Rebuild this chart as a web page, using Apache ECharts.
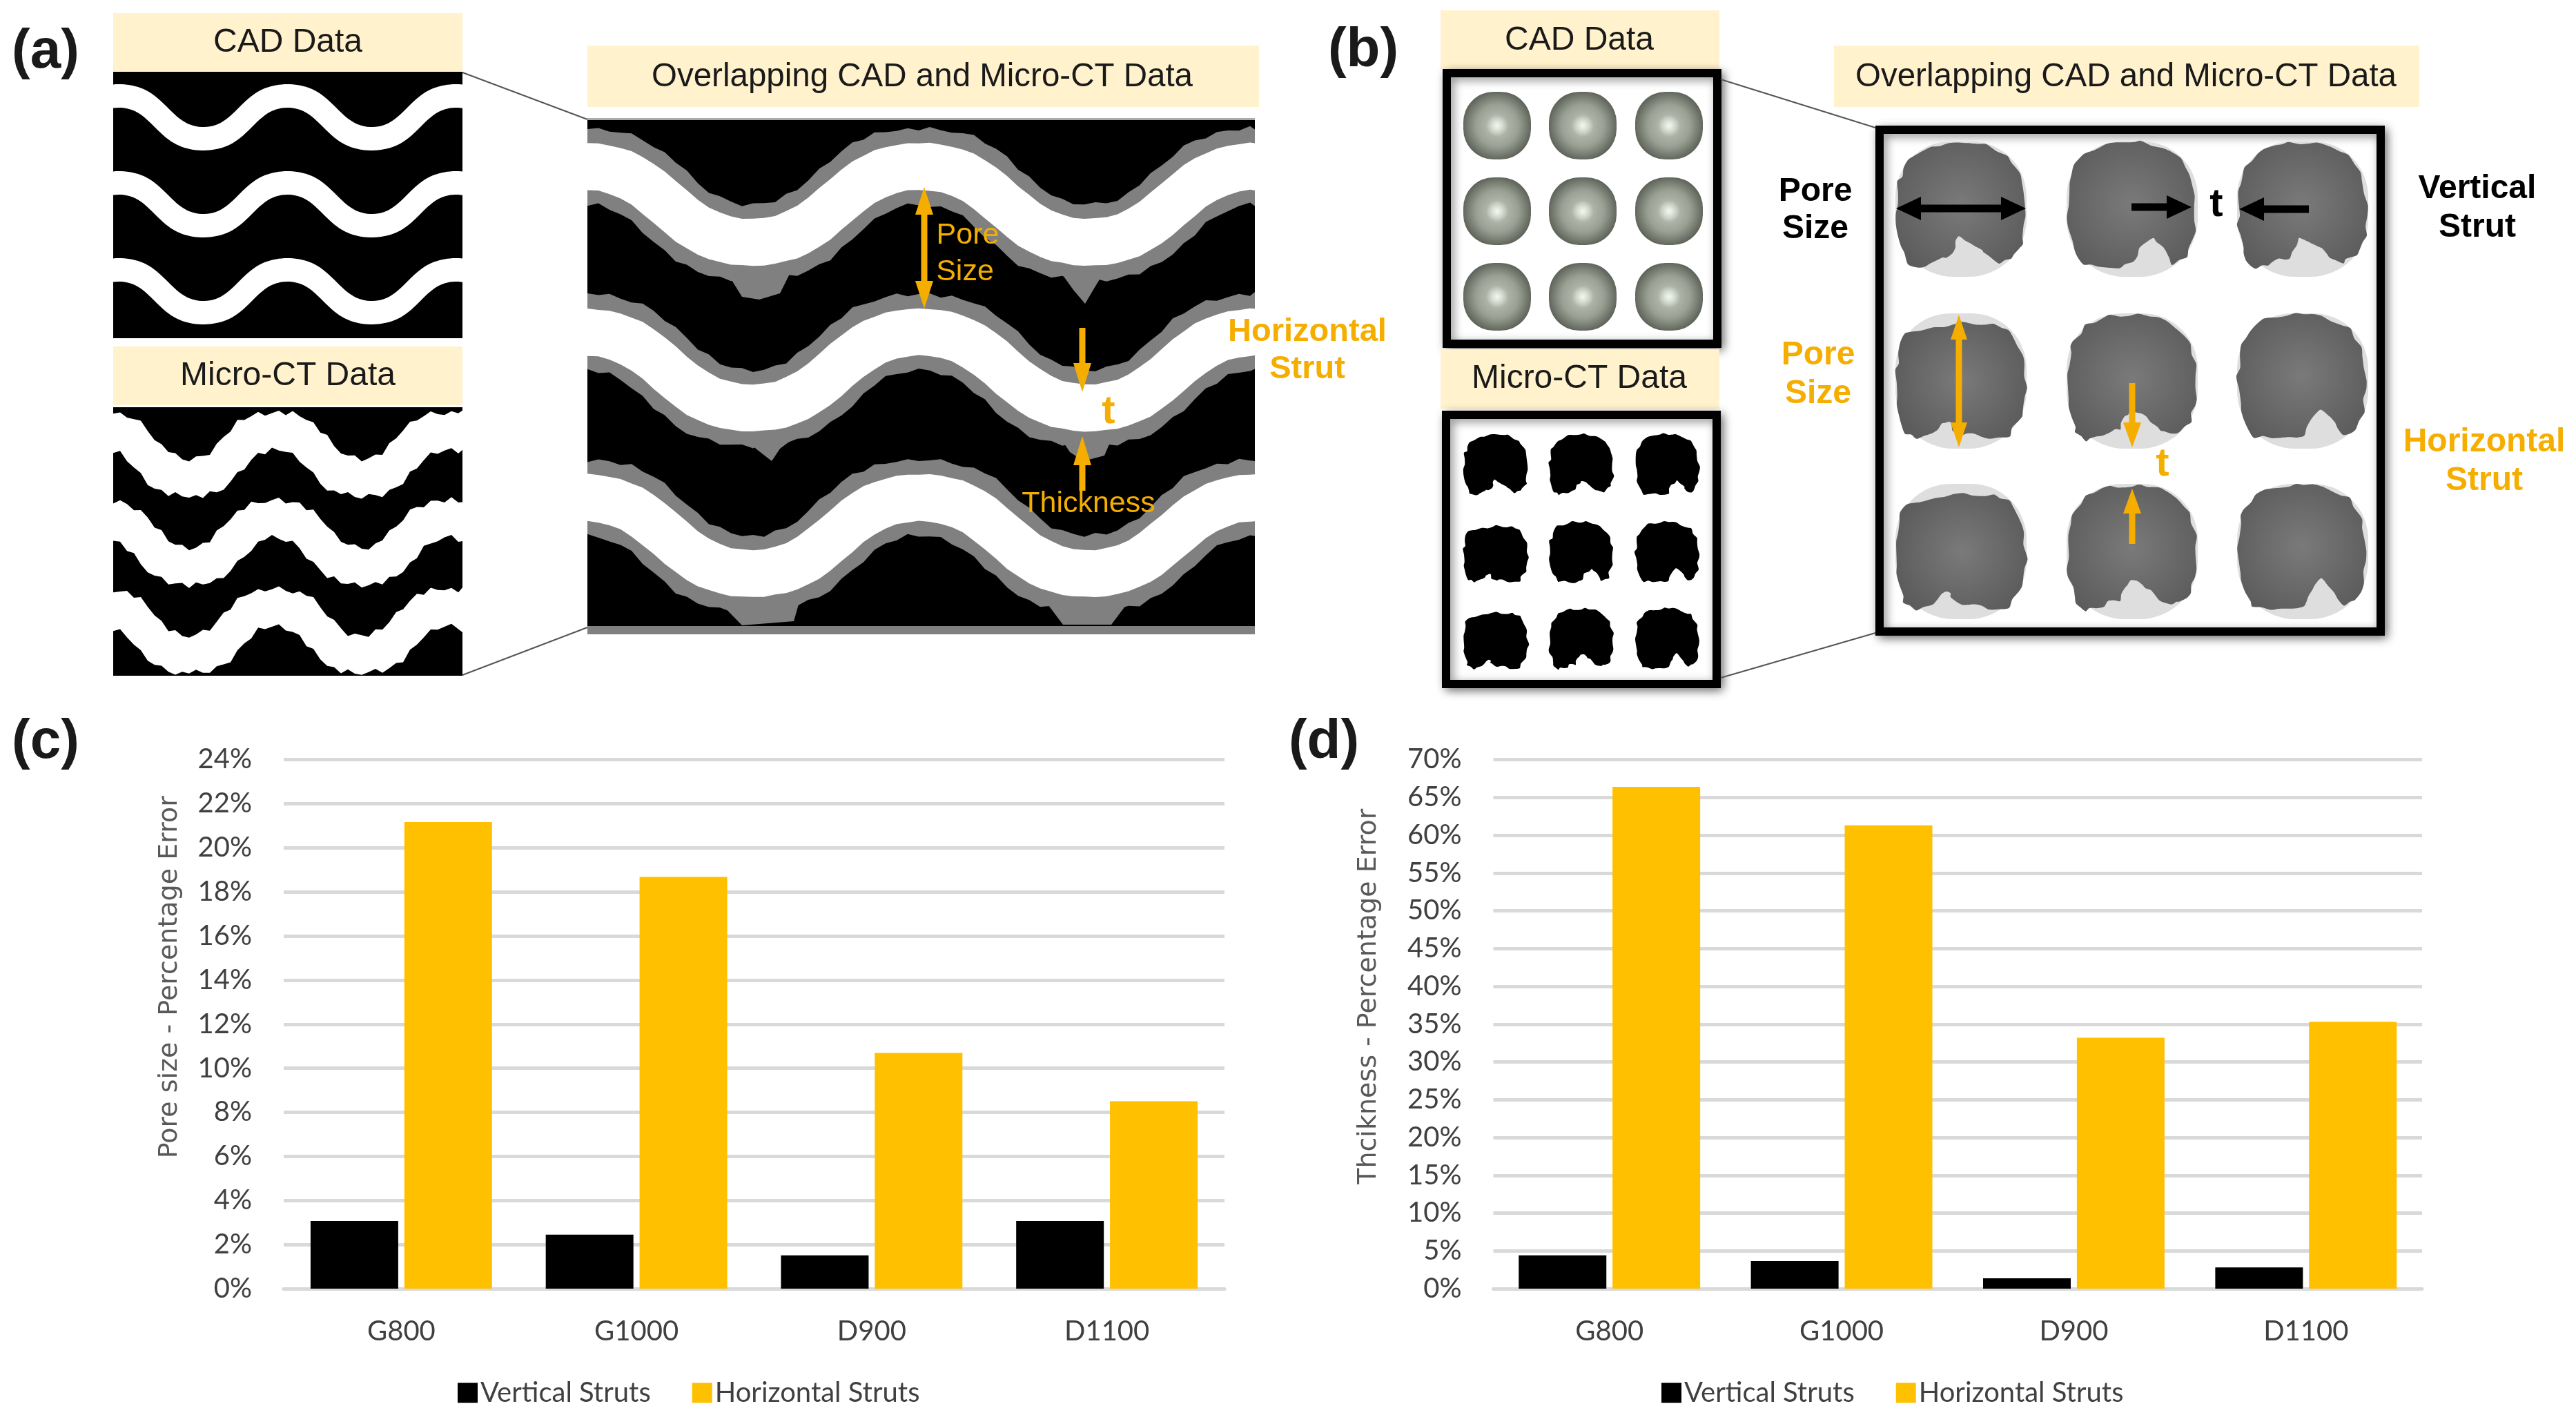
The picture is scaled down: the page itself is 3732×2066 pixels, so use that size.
<!DOCTYPE html>
<html><head><meta charset="utf-8">
<style>html,body{margin:0;padding:0;background:#fff}#c{width:3732px;height:2066px}</style>
<script src="https://cdn.jsdelivr.net/npm/echarts@6/dist/echarts.min.js"></script>
</head><body><div id="c"></div>
<script>
// ---- chart data ----
const categories = ['G800','G1000','D900','D1100'];
const seriesNames = ['Vertical Struts','Horizontal Struts'];
const poreVertical = [3.07,2.45,1.51,3.07];
const poreHorizontal = [21.17,18.68,10.69,8.5];
const thickVertical = [4.4,3.66,1.37,2.8];
const thickHorizontal = [66.4,61.3,33.2,35.3];
const poreAxisName = 'Pore size - Percentage Error';
const thickAxisName = 'Thcikness - Percentage Error';

// ---- schematic helpers ----
const ORANGE='#F5AE00', CREAM='#FFF2CC', FONT='"Liberation Sans"';
const jag=[2,-3,4,1,-5,3,6,-2,1,-6,2,5,-4,0,7,-3,-1,4,-7,3,1,-4,6,2,-3,5,-6,1,3,-2,6,-5,2,4,-1,-6,5,0,-3,7,-4,2];
const g=[];
const rect=(x,y,w,h,fill,extra)=>g.push({type:'rect',shape:Object.assign({x,y,width:w,height:h},extra&&extra.shape||{}),style:Object.assign({fill},extra&&extra.style||{}),silent:true});
const txt=(text,x,y,size,fill,weight)=>g.push({type:'text',silent:true,style:{text,x,y,fill:fill||'#1a1a1a',font:(weight||'normal')+' '+size+'px '+FONT,align:'center',verticalAlign:'middle'}});
const line=(x1,y1,x2,y2,c,w)=>g.push({type:'line',silent:true,shape:{x1,y1,x2,y2},style:{stroke:c||'#555',lineWidth:w||2}});
const poly=(points,fill,smooth)=>g.push({type:'polygon',silent:true,shape:{points,smooth:smooth||0},style:{fill}});

function band(l,r,px,P,mid,amp,top,bot,js,seed,step){
  const f=x=>{const t=2*Math.PI*(x-px)/P;return mid-amp*(Math.cos(t)-0.04*Math.cos(3*t))/0.96;};
  const pts=[],low=[];
  let k=seed||0;
  step=step||(js?10:4);
  const xs=[];for(let x=l;x<r;x+=step)xs.push(x);xs.push(r);
  xs.forEach(x=>{
    const y=f(x),s=Math.sqrt(1+Math.pow((f(x+1)-f(x-1))/2,2));
    const a=js*jag[k%jag.length],b=js*jag[(k+17)%jag.length];k++;
    pts.push([x,y-top*s+a]);low.unshift([x,y+bot*s+b]);
  });
  return pts.concat(low);
}
function arrow(x1,y1,x2,y2,c,w,hl,hw,both){
  const d=Math.hypot(x2-x1,y2-y1),ux=(x2-x1)/d,uy=(y2-y1)/d,nx=-uy,ny=ux;
  const sx=both?x1+ux*hl:x1,sy=both?y1+uy*hl:y1,ex=x2-ux*hl,ey=y2-uy*hl;
  poly([[sx+nx*w/2,sy+ny*w/2],[ex+nx*w/2,ey+ny*w/2],[ex-nx*w/2,ey-ny*w/2],[sx-nx*w/2,sy-ny*w/2]],c);
  poly([[x2,y2],[ex+nx*hw/2,ey+ny*hw/2],[ex-nx*hw/2,ey-ny*hw/2]],c);
  if(both)poly([[x1,y1],[sx+nx*hw/2,sy+ny*hw/2],[sx-nx*hw/2,sy-ny*hw/2]],c);
}
const blobA=[[-.7,-.82],[-.45,-.95],[-.2,-.98],[.1,-.99],[.4,-.95],[.7,-.8],[.88,-.55],[.96,-.25],[.98,.1],[.96,.4],[.88,.6],[.75,.74],[.6,.8],[.42,.72],[.3,.6],[.14,.5],[-.03,.42],[-.1,.55],[-.2,.72],[-.35,.76],[-.55,.84],[-.72,.88],[-.85,.78],[-.92,.55],[-.98,.25],[-.98,-.1],[-.95,-.4],[-.88,-.62]];
const blobB=[[-.85,-.72],[-.4,-.78],[-.1,-.86],[.2,-.86],[.5,-.84],[.72,-.76],[.88,-.55],[.96,-.25],[.99,.1],[.96,.4],[.88,.62],[.72,.82],[.45,.86],[.2,.8],[.02,.78],[-.1,.74],[-.18,.62],[-.3,.62],[-.42,.8],[-.7,.86],[-.86,.78],[-.94,.5],[-.99,.2],[-.98,-.15],[-.96,-.42]];
const blobC=[[-.72,-.85],[-.4,-.97],[-.1,-1],[.15,-1],[.45,-.92],[.72,-.78],[.88,-.5],[.95,-.2],[.97,.15],[.92,.45],[.82,.72],[.62,.82],[.48,.6],[.3,.42],[.12,.58],[.02,.8],[-.2,.86],[-.5,.85],[-.75,.84],[-.88,.6],[-.96,.3],[-.99,-.05],[-.96,-.4],[-.88,-.65]];
function blob(b,cx,cy,rx,ry,fill,js,seed){
  const pts=[];
  b.forEach((p,i)=>{
    const q=b[(i+1)%b.length];
    pts.push([cx+p[0]*rx+js*jag[(i+seed)%jag.length],cy+p[1]*ry+js*jag[(i+seed+5)%jag.length]]);
    pts.push([cx+(p[0]+q[0])/2*rx-js*jag[(i+seed+9)%jag.length],cy+(p[1]+q[1])/2*ry+js*jag[(i+seed+13)%jag.length]]);
  });
  poly(pts,fill,0.25);
}

// ---- panel (a) ----
txt('(a)',66,76,80,'#1a1a1a','bold');
rect(164,19,506,85,CREAM); txt('CAD Data',417,62,48);
rect(164,104,506,386,'#000');
[170,296,422].forEach(m=>poly(band(164,670,416.5,244,m,31,17,17,0),'#fff'));
rect(164,502,506,85,CREAM); txt('Micro-CT Data',417,545,48);
rect(164,590,506,389,'#000');
[658,786,914].forEach((m,i)=>poly(band(164,670,399,250,m,34,27,27,0.7,i*11),'#fff'));
rect(851,66,973,89,CREAM); txt('Overlapping CAD and Micro-CT Data',1336,112,47.5);
rect(851,173,967,734,'#000');
rect(851,907,967,12,'#808080');
rect(851,171,967,3,'#aaa');
[296,536,776].forEach((m,i)=>poly(band(851,1818,1333,488,m,55,55,55,0.5,i*7,16),'#808080'));
// gray drips under the horizontal struts
[[[1047,385],[1150,385],[1130,425],[1100,434],[1075,430]],[[1530,385],[1605,385],[1585,418],[1572,440],[1555,420]],
 [[1070,620],[1170,620],[1130,650],[1118,668],[1095,650]],[[1530,625],[1615,625],[1600,660],[1570,668],[1550,655]],
 [[1035,865],[1160,865],[1150,900],[1075,906]],[[1510,865],[1640,865],[1610,905],[1540,905]]].forEach(p=>poly(p,'#808080'));
[296,536,776].forEach((m,i)=>poly(band(851,1818,1333,488,m,55,34,34,0.12,i*13,16),'#fff'));
arrow(1339,271,1339,447,ORANGE,9,40,26,true);
txt('Pore',1402,341,43,ORANGE); txt('Size',1398,394,43,ORANGE);
arrow(1568,475,1568,568,ORANGE,9,42,26);
txt('t',1606,597,58,ORANGE,'bold');
arrow(1568,711,1568,632,ORANGE,9,42,26);
txt('Thickness',1577,730,43,ORANGE);
txt('Horizontal',1894,481,47,ORANGE,'bold'); txt('Strut',1894,535,47,ORANGE,'bold');
line(670,105,851,173); line(670,978,851,909);

// ---- panel (b) ----
txt('(b)',1975,74,80,'#1a1a1a','bold');
const frame=(x,y,w,h)=>rect(x,y,w,h,'#fff',{style:{stroke:'#000',lineWidth:12,shadowBlur:14,shadowColor:'rgba(0,0,0,.45)',shadowOffsetX:4,shadowOffsetY:4}});
rect(2087,15,404,85,CREAM); txt('CAD Data',2288,59,48);
frame(2096,106,392,392);
rect(2087,506,404,86,CREAM); txt('Micro-CT Data',2288,549,48);
frame(2095,601,392,390);
const shade=()=>new echarts.graphic.RadialGradient(0.5,0.5,0.62,[{offset:0,color:'#c2c9bc'},{offset:.5,color:'#9aa194'},{offset:.85,color:'#5b6056'},{offset:1,color:'#3f423c'}]);
[182,306,430].forEach(cy=>[2169,2293,2418].forEach(cx=>{
  g.push({type:'rect',silent:true,shape:{x:cx-49,y:cy-49,width:98,height:98,r:[44,44,44,44]},style:{fill:shade()}});
  g.push({type:'ellipse',silent:true,x:cx,y:cy,rotation:-0.5,shape:{cx:0,cy:0,rx:16,ry:36},
    style:{fill:new echarts.graphic.RadialGradient(0.5,0.5,0.5,[{offset:0,color:'rgba(245,250,240,.95)'},{offset:1,color:'rgba(245,250,240,0)'}])}});
}));
const ctBlobs=[blobA,blobA,blobC,blobB,blobC,blobC,blobB,blobA,blobC];
[676,803,928].forEach((cy,r)=>[2167,2291,2416].forEach((cx,c)=>blob(ctBlobs[r*3+c],cx,cy,47,47,'#000',0.25,r*3+c)));
rect(2657,66,848,89,CREAM); txt('Overlapping CAD and Micro-CT Data',3080,112,47.5);
frame(2723,188,726,727);
const cellBlobs=[blobA,blobC,blobA,blobB,blobA,blobC,blobB,blobA,blobC];
[303,552,799].forEach((cy,r)=>[2841,3089,3336].forEach((cx,c)=>{
  g.push({type:'rect',silent:true,shape:{x:cx-95,y:cy-98,width:190,height:196,r:[80,80,84,84]},style:{fill:'#dedede'}});
  blob(cellBlobs[r*3+c],cx,cy,95,97,new echarts.graphic.RadialGradient(0.5,0.5,0.6,[{offset:0,color:'#7a7a7a'},{offset:1,color:'#5c5c5c'}]),0.35,r*3+c);
}));
line(2493,115,2717,185); line(2493,982,2717,917);
txt('Pore',2630,278,48,'#000','bold'); txt('Size',2630,332,48,'#000','bold');
txt('Vertical',3589,274,48,'#000','bold'); txt('Strut',3589,330,48,'#000','bold');
txt('Pore',2634,515,48,ORANGE,'bold'); txt('Size',2634,571,48,ORANGE,'bold');
txt('Horizontal',3599,641,48,ORANGE,'bold'); txt('Strut',3599,697,48,ORANGE,'bold');
txt('t',3211,297,58,'#000','bold'); txt('t',3133,673,58,ORANGE,'bold');
arrow(2747,302,2935,302,'#000',11,36,34,true);
arrow(3088,300,3175,300,'#000',11,36,34);
arrow(3345,303,3244,303,'#000',11,36,34);
arrow(2838,456,2838,648,ORANGE,9,36,24,true);
arrow(3089,555,3089,648,ORANGE,9,36,26);
arrow(3089,788,3089,708,ORANGE,9,36,26);

// ---- panels (c) (d) labels ----
txt('(c)',66,1076,80,'#1a1a1a','bold');
txt('(d)',1918,1076,80,'#1a1a1a','bold');

// ---- charts ----
const labelColor='#404040', LABEL='Lato';
const grid=[{left:411,width:1363,top:1100.5,height:766.5},{left:2163.5,width:1345.5,top:1100.5,height:766.5}];
const xAxis=[0,1].map(i=>({type:'category',gridIndex:i,data:categories,
  axisTick:{show:false},axisLine:{lineStyle:{color:'#D9D9D9',width:5}},
  axisLabel:{color:labelColor,fontFamily:LABEL,fontSize:40,margin:42}}));
const yBase=(i,max,interval,name,pad,gap)=>({type:'value',gridIndex:i,min:0,max,interval,name,nameLocation:'middle',nameGap:gap,
  nameTextStyle:{color:'#595959',fontFamily:'DejaVu Sans',fontSize:38,padding:[0,0,0,pad]},
  axisLine:{show:false},axisTick:{show:false},
  splitLine:{lineStyle:{color:'#D9D9D9',width:5}},
  axisLabel:{color:labelColor,fontFamily:LABEL,fontSize:40,margin:46,formatter:'{value}%'}});
const yAxis=[yBase(0,24,2,poreAxisName,136,146),yBase(1,70,5,thickAxisName,80,161)];
const bar=(name,data,i,color)=>({type:'bar',name,data,xAxisIndex:i,yAxisIndex:i,barWidth:127,barGap:'7%',itemStyle:{color}});
const leg=(left)=>({left,top:1993,data:seriesNames,itemWidth:29,itemHeight:29,itemGap:60,icon:'rect',
  textStyle:{color:labelColor,fontFamily:LABEL,fontSize:40,padding:[0,0,0,-1]}});
const chart=echarts.init(document.getElementById('c'));
chart.setOption({
  backgroundColor:'#fff',animation:false,
  grid,xAxis,yAxis,
  legend:[leg(658),leg(2402)],
  series:[bar(seriesNames[0],poreVertical,0,'#000'),bar(seriesNames[1],poreHorizontal,0,'#FFC000'),
          bar(seriesNames[0],thickVertical,1,'#000'),bar(seriesNames[1],thickHorizontal,1,'#FFC000')],
  graphic:{elements:g}
});
</script></body></html>
